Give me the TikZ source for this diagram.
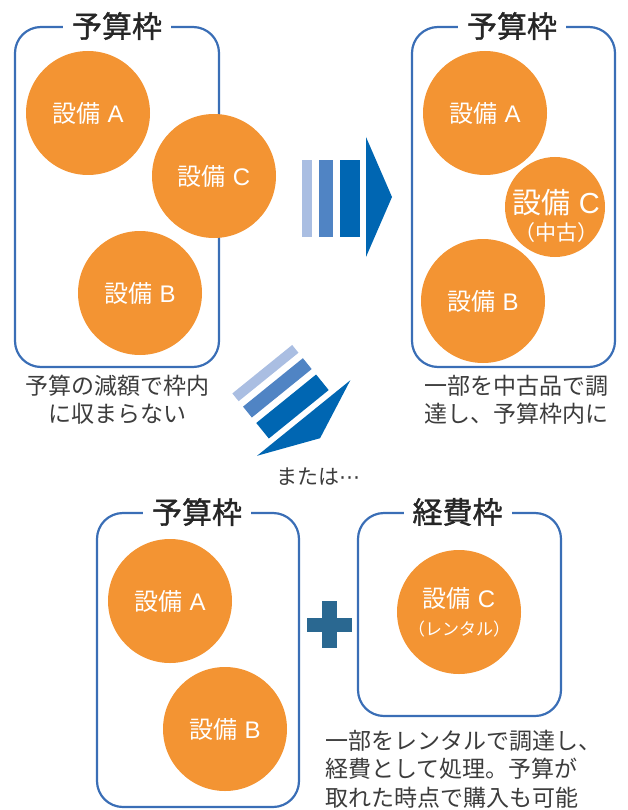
\documentclass[tikz,border=0pt]{standalone}
\usepackage{fontspec}
\setmainfont{Noto Sans CJK JP}
\newfontfamily\titlefont[FakeBold=1.2]{Noto Sans CJK JP}
\newfontfamily\letterfont{Liberation Sans}
\newfontfamily\symbolfont{DejaVu Sans}
\usetikzlibrary{positioning}
\definecolor{frameblue}{RGB}{58,110,182}
\definecolor{unitorange}{RGB}{243,148,51}
\definecolor{barlight}{RGB}{170,190,226}
\definecolor{barmid}{RGB}{80,132,196}
\definecolor{bardark}{RGB}{0,102,178}
\definecolor{plusblue}{RGB}{42,104,145}
\definecolor{textgray}{RGB}{60,60,60}
\newcommand{\unitname}[1]{設備\hspace{0.3em}{\letterfont #1}}
\tikzset{
  x=1pt,y=-1pt,
  every node/.style={outer sep=0pt,inner sep=0pt}
}
\tikzset{frame/.style 2 args={
    draw=frameblue,
    line width=2.2pt,
    rounded corners=26pt,
    minimum width=#1,
    minimum height=#2
  }}
\tikzset{frametitle/.style={
    fill=white,
    inner xsep=9pt,
    inner ysep=2pt,
    text=black!85,
    font=\fontsize{30}{30}\selectfont\titlefont
  }}
\tikzset{unit/.style={
    circle,
    fill=unitorange,
    minimum size=#1,
    text=white,
    align=center,
    font=\fontsize{24}{26}\selectfont
  },
  unit/.default=124pt}
\tikzset{caption/.style={
    text=textgray,
    align=#1,
    font=\fontsize{23}{28.5}\selectfont
  },
  caption/.default=center}
\tikzset{stripearrow/.pic={
    \fill[barlight] (-64,-37) rectangle (-54,40);
    \fill[barmid]   (-47,-37) rectangle (-33,40);
    \fill[bardark]  (-26,-37) rectangle (-6,40);
    \fill[bardark]  (0,-60) -- (26,0) -- (0,60) -- cycle;
  }}

\begin{document}
\begin{tikzpicture}
  \useasboundingbox (0,0) rectangle (627,810);

  \node (FrameNow)    [frame={204}{340}] at (117,197)   {};
  \node (FrameUsed)   [frame={203}{340}] at (513.5,197) {};
  \node (FrameBudget) [frame={202}{294}] at (198,660)   {};
  \node (FrameCost)   [frame={203}{203}] at (459.5,614.5) {};

  \node (TitleNow)    [frametitle] at (117,26)   {予算枠};
  \node (TitleUsed)   [frametitle] at (512,26)   {予算枠};
  \node (TitleBudget) [frametitle] at (197,512)  {予算枠};
  \node (TitleCost)   [frametitle] at (457.5,512) {経費枠};

  \node (NowA) [unit] at (88,113)  {\unitname{A}};
  \node (NowC) [unit] at (214,176) {\unitname{C}};
  \node (NowB) [unit] at (140,293) {\unitname{B}};

  \node (UsedA) [unit] at (485,113) {\unitname{A}};
  \node (UsedC) [unit=100pt] at (555,207) {};
  \node (UsedCText) [text=white,align=center] at (556,216)
    {{\fontsize{29}{33}\selectfont\unitname{C}}\\[6pt]{\fontsize{21}{22}\selectfont （中古）}};
  \node (UsedB) [unit] at (483,301) {\unitname{B}};

  \node (BudgetA) [unit] at (170,601) {\unitname{A}};
  \node (BudgetB) [unit] at (225,729) {\unitname{B}};

  \node (RentC) [unit] at (459,612)
    {\unitname{C}\\[2pt]{\fontsize{17}{20}\selectfont （レンタル）}};

  \node (CapNow)  [caption,below=8pt of FrameNow]                {予算の減額で枠内\\に収まらない};
  \node (CapUsed) [caption,below=8pt of FrameUsed,xshift=3pt]   {一部を中古品で調\\達し、予算枠内に};
  \node (CapRent) [caption=left,anchor=north west] at (325,730)
    {一部をレンタルで調達し、\\経費として処理。予算が\\取れた時点で購入も可能};

  \pic at (366,197) {stripearrow};
  \pic [rotate=-51] at (303.7,418) {stripearrow};
  \node (Or) [caption,font=\fontsize{21}{24}\selectfont] at (318,477) {または{\symbolfont ⋯}};

  \coordinate (Plus) at (329,624.5);
  \fill[plusblue] ([xshift=-22.5pt,yshift=7pt] Plus) rectangle ([xshift=22.5pt,yshift=-7pt] Plus);
  \fill[plusblue] ([xshift=-7.5pt,yshift=23.5pt] Plus) rectangle ([xshift=7.5pt,yshift=-23.5pt] Plus);
\end{tikzpicture}
\end{document}
